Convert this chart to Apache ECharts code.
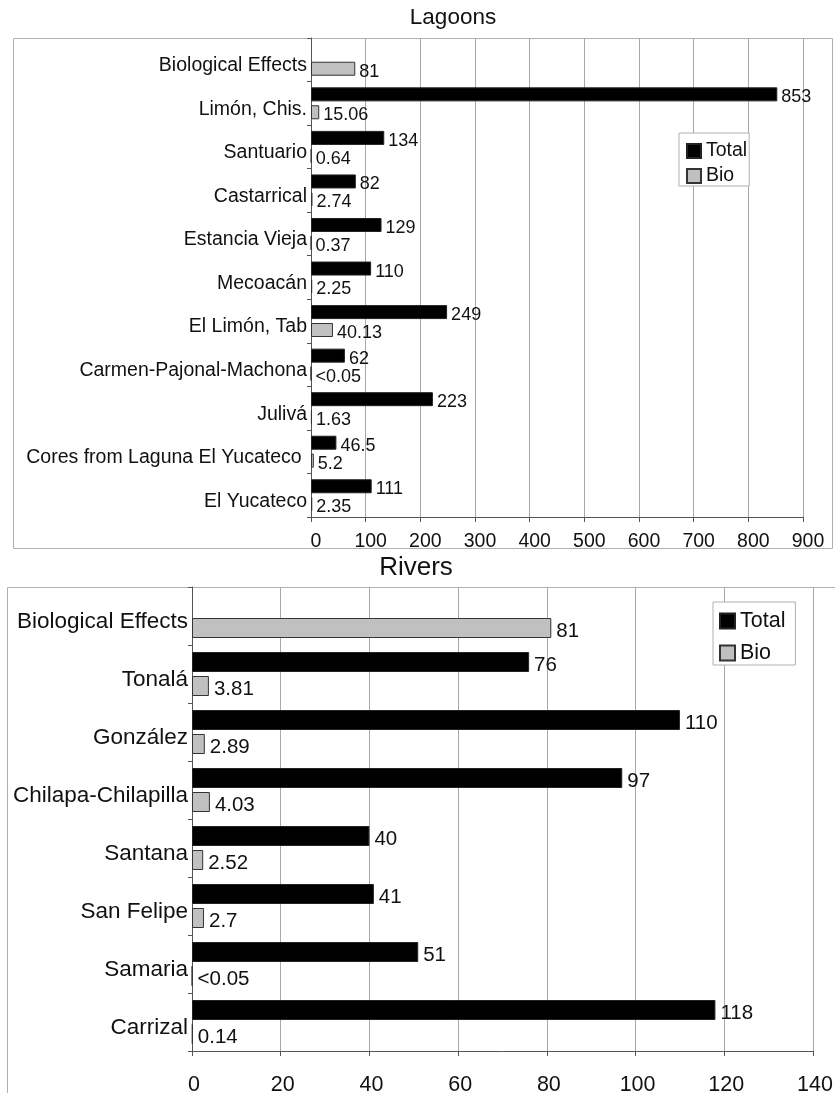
<!DOCTYPE html>
<html>
<head>
<meta charset="utf-8">
<script src="https://cdn.jsdelivr.net/npm/echarts@6/dist/echarts.min.js"></script>
<style>
  html, body { margin: 0; padding: 0; background: #fff; }
  #chart { width: 835px; height: 1093px; }
</style>
</head>
<body>
<div id="chart"></div>
<script>
// Lagoons: total and bio-available concentrations per site
const lagoonSites = ['Biological Effects', 'Limón, Chis.', 'Santuario', 'Castarrical', 'Estancia Vieja',
  'Mecoacán', 'El Limón, Tab', 'Carmen-Pajonal-Machona', 'Julivá', 'Cores from Laguna El Yucateco ', 'El Yucateco'];
const lagoonTotal = [null, 853, 134, 82, 129, 110, 249, 62, 223, 46.5, 111];
const lagoonBio = [81, 15.06, 0.64, 2.74, 0.37, 2.25, 40.13, 0.05, 1.63, 5.2, 2.35];
const lagoonBioLabels = ['81', '15.06', '0.64', '2.74', '0.37', '2.25', '40.13', '<0.05', '1.63', '5.2', '2.35'];
const lagoonTicks = [0, 100, 200, 300, 400, 500, 600, 700, 800, 900];

// Rivers
const riverSites = ['Biological Effects', 'Tonalá', 'González', 'Chilapa-Chilapilla', 'Santana',
  'San Felipe', 'Samaria', 'Carrizal'];
const riverTotal = [null, 76, 110, 97, 40, 41, 51, 118];
const riverBio = [81, 3.81, 2.89, 4.03, 2.52, 2.7, 0.05, 0.14];
const riverBioLabels = ['81', '3.81', '2.89', '4.03', '2.52', '2.7', '<0.05', '0.14'];
const riverTicks = [0, 20, 40, 60, 80, 100, 120, 140];

const FONT = "'Liberation Sans', Arial, Helvetica, sans-serif";
const TXT = '#111';
const AXIS = '#555';
const GRID = '#a8a8a8';

function valueAxis(gridIndex, ticks, fontSize, margin, padLeft) {
  const step = ticks[1] - ticks[0];
  return {
    type: 'value', gridIndex,
    min: ticks[0], max: ticks[ticks.length - 1], interval: step,
    axisLine: { show: true, lineStyle: { color: AXIS, width: 1 } },
    axisTick: { show: true, length: 5, lineStyle: { color: AXIS } },
    splitLine: { show: true, lineStyle: { color: GRID, width: 1 } },
    axisLabel: { color: TXT, fontFamily: FONT, fontSize, margin, padding: [0, 0, 0, padLeft] }
  };
}

// category labels sit a little below the middle of their band
function categoryAxis(gridIndex, cats, fontSize, drop) {
  return {
    type: 'category', gridIndex, data: cats, inverse: true,
    axisLine: { show: true, lineStyle: { color: AXIS, width: 1 } },
    axisTick: { show: true, length: 4, lineStyle: { color: AXIS } },
    axisLabel: { color: TXT, fontFamily: FONT, fontSize, margin: 4,
      verticalAlign: 'top', lineHeight: drop * 2 }
  };
}

function labelStyle(fontSize, distance, texts) {
  const s = { show: true, position: 'right', distance, offset: [0, 3], color: TXT, fontFamily: FONT, fontSize };
  if (texts) s.formatter = p => texts[p.dataIndex];
  return s;
}

const totalStyle = { color: '#000', borderColor: '#222', borderWidth: 1 };
const bioStyle = { color: '#c0c0c0', borderColor: '#333', borderWidth: 1 };

const option = {
  animation: false,
  backgroundColor: '#fff',
  textStyle: { fontFamily: FONT },
  graphic: [
    { type: 'rect', shape: { x: 13.5, y: 38.5, width: 819, height: 510 },
      style: { fill: 'none', stroke: '#b0b0b0', lineWidth: 1 }, z: -1 },
    { type: 'rect', shape: { x: 7.5, y: 587.5, width: 900, height: 600 },
      style: { fill: 'none', stroke: '#b0b0b0', lineWidth: 1 }, z: -1 },
    { type: 'text', x: 453, y: 18,
      style: { text: 'Lagoons', font: "22.5px " + FONT, fill: TXT, textAlign: 'center', textVerticalAlign: 'middle' } },
    { type: 'text', x: 416, y: 568,
      style: { text: 'Rivers', font: "26px " + FONT, fill: TXT, textAlign: 'center', textVerticalAlign: 'middle' } }
  ],
  legend: [
    { data: ['Total', 'Bio'], orient: 'vertical', left: 679, top: 133,
      itemWidth: 14, itemHeight: 14, itemGap: 5, icon: 'rect',
      padding: [8, 2, 0, 7], borderColor: '#b0b0b0', borderWidth: 1, backgroundColor: '#fff',
      textStyle: { color: TXT, fontFamily: FONT, fontSize: 19.5, lineHeight: 20 } },
    { data: ['Total', 'Bio'], orient: 'vertical', left: 713, top: 602,
      itemWidth: 15, itemHeight: 15, itemGap: 8, icon: 'rect',
      padding: [7, 10, 0, 6], borderColor: '#b0b0b0', borderWidth: 1, backgroundColor: '#fff',
      textStyle: { color: TXT, fontFamily: FONT, fontSize: 21.5, lineHeight: 24 } }
  ],
  grid: [
    { left: 311, top: 38, width: 492, height: 479, containLabel: false, outerBoundsMode: 'none' },
    { left: 192, top: 587, width: 621, height: 464, containLabel: false, outerBoundsMode: 'none' }
  ],
  xAxis: [
    valueAxis(0, lagoonTicks, 19.5, 15, 10),
    valueAxis(1, riverTicks, 21.5, 23, 4)
  ],
  yAxis: [
    categoryAxis(0, lagoonSites, 19.5, 6),
    categoryAxis(1, riverSites, 22.5, 6)
  ],
  series: [
    { name: 'Total', type: 'bar', xAxisIndex: 0, yAxisIndex: 0, data: lagoonTotal,
      barWidth: 14, barGap: '28%', itemStyle: totalStyle, label: labelStyle(18, 4) },
    { name: 'Bio', type: 'bar', xAxisIndex: 0, yAxisIndex: 0, data: lagoonBio,
      barWidth: 14, barGap: '28%', itemStyle: bioStyle, label: labelStyle(18, 4, lagoonBioLabels) },
    { name: 'Total', type: 'bar', xAxisIndex: 1, yAxisIndex: 1, data: riverTotal,
      barWidth: 20, barGap: '20%', itemStyle: totalStyle, label: labelStyle(20.5, 5) },
    { name: 'Bio', type: 'bar', xAxisIndex: 1, yAxisIndex: 1, data: riverBio,
      barWidth: 20, barGap: '20%', itemStyle: bioStyle, label: labelStyle(20.5, 5, riverBioLabels) }
  ]
};

const chart = echarts.init(document.getElementById('chart'), null, { renderer: 'canvas' });
chart.setOption(option);
</script>
</body>
</html>
